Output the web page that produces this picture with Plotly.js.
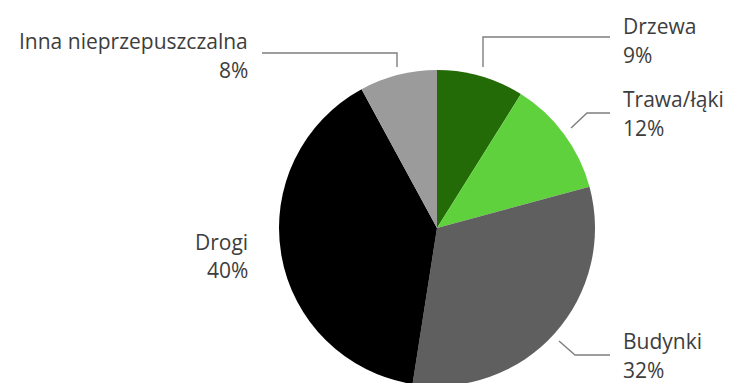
<!DOCTYPE html>
<html>
<head>
<meta charset="utf-8">
<script src="https://cdn.plot.ly/plotly-3.0.1.min.js"></script>
<style>
html,body{margin:0;padding:0;overflow:hidden;background:#fff;width:732px;height:383px;}
#chart{width:732px;height:400px;}
</style>
</head>
<body>
<div id="chart"></div>
<script>
const categories = ["Drzewa", "Trawa/łąki", "Budynki", "Drogi", "Inna nieprzepuszczalna"];
const values = [9, 12, 32, 40, 8];
const colors = ["#236b06", "#5fd13d", "#5f5f5f", "#000000", "#9b9b9b"];

const W = 732, H = 400;
const px = x => x / W;
const py = y => 1 - y / H;

// label placement (pixel anchors: name line center, percent line center)
const labelPos = [
  {x: 621, y1: 26, y2: 55, anchor: "left"},
  {x: 621, y1: 99, y2: 128, anchor: "left"},
  {x: 621, y1: 341, y2: 370, anchor: "left"},
  {x: 250, y1: 242, y2: 270, anchor: "right"},
  {x: 250, y1: 41, y2: 70, anchor: "right"}
];
const leaders = [
  [[610, 37], [483, 37], [483, 67]],
  [[610, 113], [587, 113], [571, 128]],
  [[610, 355], [575, 355], [559, 341]],
  null,
  [[262, 53], [397, 53], [397, 67]]
];

const font = {family: "'Open Sans', sans-serif", size: 21, color: "#3d3d3d"};
const annotations = [];
categories.forEach((c, i) => {
  const L = labelPos[i];
  annotations.push({xref: "paper", yref: "paper", x: px(L.x), y: py(L.y1),
    xanchor: L.anchor, yanchor: "middle", showarrow: false, text: c, font: font});
  annotations.push({xref: "paper", yref: "paper", x: px(L.x), y: py(L.y2),
    xanchor: L.anchor, yanchor: "middle", showarrow: false, text: values[i] + "%", font: font});
});

const shapes = [];
leaders.forEach(l => {
  if (!l) return;
  const path = "M " + l.map(p => px(p[0]) + "," + py(p[1])).join(" L ");
  shapes.push({type: "path", xref: "paper", yref: "paper", path: path,
    line: {color: "#7f7f7f", width: 1.4}});
});

const cx = 437, cy = 228, r = 158;
const data = [{
  type: "pie",
  labels: categories,
  values: values,
  marker: {colors: colors, line: {width: 0}},
  sort: false,
  direction: "clockwise",
  rotation: 0,
  textinfo: "none",
  hoverinfo: "label+percent",
  domain: {x: [px(cx - r), px(cx + r)], y: [py(cy + r), py(cy - r)]}
}];

const layout = {
  width: W, height: H,
  margin: {l: 0, r: 0, t: 0, b: 0},
  showlegend: false,
  paper_bgcolor: "#ffffff",
  annotations: annotations,
  shapes: shapes
};

Plotly.newPlot("chart", data, layout, {displayModeBar: false, staticPlot: true});
</script>
</body>
</html>
